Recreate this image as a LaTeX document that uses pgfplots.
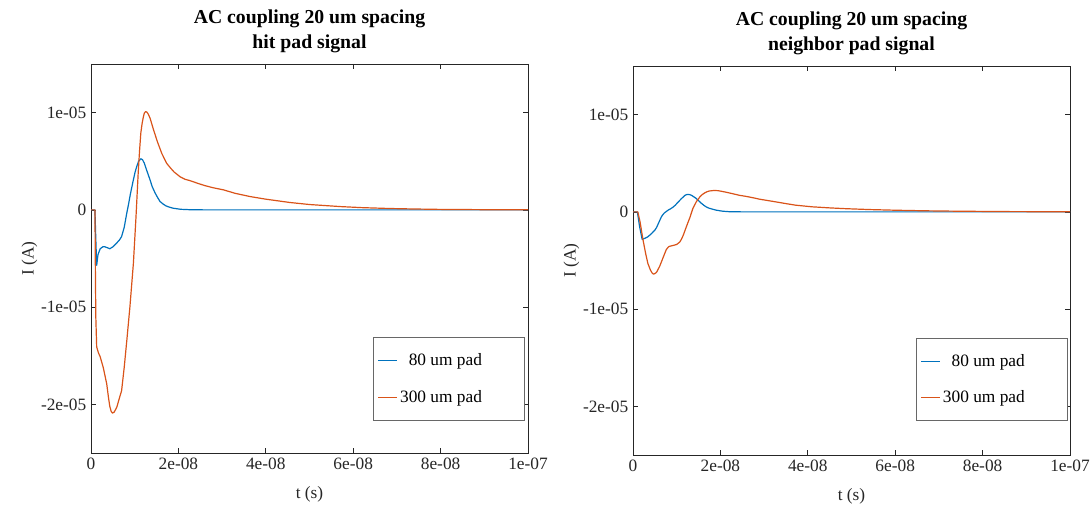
\documentclass[border=0pt]{standalone}
\usepackage{pgfplots}
\pgfplotsset{compat=1.18}
\usepackage{fontspec}
\setmainfont{Liberation Serif}
\definecolor{mblue}{RGB}{0,114,189}
\definecolor{morange}{RGB}{217,83,25}
\definecolor{axgray}{RGB}{38,38,38}

\pgfplotstableread{
t y
0 0
0.9 0
1.1 -3
1.3 -5.7
1.6 -4.6
2.1 -4.0
2.7 -3.8
3.2 -3.8
3.8 -3.9
4.3 -4.0
5.0 -3.8
5.9 -3.4
6.5 -3.1
7.0 -2.75
7.6 -1.8
8.2 -0.3
8.6 0.6
9.0 1.6
9.7 3.1
10.1 3.9
10.5 4.5
10.9 5.0
11.4 5.26
11.8 5.15
12.2 4.8
12.8 4.0
13.5 3.1
14.0 2.4
14.6 1.8
15.2 1.3
15.8 0.86
16.5 0.6
17.2 0.4
18.0 0.27
18.8 0.17
20.5 0.06
22.5 0.02
26 0
100 0
}\lefthit

\pgfplotstableread{
t y
0 0
0.9 0
1.0 -6
1.1 -11
1.3 -14.1
1.7 -14.7
2.1 -15.1
2.8 -16.2
3.6 -17.9
4.0 -19.3
4.3 -20.2
4.6 -20.7
4.9 -20.9
5.3 -20.8
5.9 -20.3
6.6 -19.2
7.0 -18.6
7.6 -16.2
8.2 -13.4
8.9 -10.0
9.7 -5.5
10.3 -0.7
10.8 3.8
11.1 6.0
11.4 7.9
11.7 8.9
12.0 9.6
12.2 9.95
12.5 10.1
12.8 10.05
13.1 9.85
13.5 9.45
14.3 8.25
15.2 7.0
16.2 5.8
17.3 4.8
18.2 4.3
19.0 3.9
20.4 3.4
21.5 3.15
22.7 3.0
24.3 2.75
26 2.5
28 2.27
30.3 2.06
33 1.7
36.4 1.37
40 1.1
45.5 0.76
50 0.55
57 0.34
62 0.23
68.4 0.14
74 0.09
79.8 0.05
90 0.02
100 0.01
}\leftbig

\pgfplotstableread{
t y
0 0
1.0 0
1.5 -1.5
2.1 -2.83
2.8 -2.7
3.4 -2.56
4.2 -2.25
5.0 -1.88
5.4 -1.6
5.8 -1.2
6.2 -0.8
6.5 -0.5
6.9 -0.25
7.2 -0.1
8.0 0.17
8.6 0.32
9.2 0.5
9.7 0.7
10.2 0.95
11.1 1.37
11.9 1.7
12.3 1.78
12.6 1.8
13.0 1.77
13.4 1.7
14.5 1.37
15.0 1.15
15.6 0.9
16.2 0.68
16.8 0.5
17.4 0.38
18.0 0.3
19.1 0.17
20.5 0.07
22 0.02
25 0
100 0
}\righthit

\pgfplotstableread{
t y
0 0
1.1 0
1.6 -1.0
2.3 -2.9
2.9 -4.3
3.4 -5.3
4.0 -6.0
4.4 -6.3
4.7 -6.4
5.0 -6.35
5.4 -6.2
6.1 -5.6
6.8 -4.8
7.6 -3.9
8.0 -3.65
8.3 -3.55
9.2 -3.45
10.0 -3.35
10.7 -3.1
11.1 -2.8
11.5 -2.4
12.2 -1.54
13.0 -0.6
13.7 0.35
14.5 1.05
15.3 1.54
15.9 1.8
16.4 1.95
17.0 2.08
17.5 2.15
18.5 2.2
19.5 2.18
21 2.05
22.5 1.9
24.4 1.7
25.8 1.6
27.5 1.45
29 1.3
32 1.08
35 0.85
37.2 0.69
41 0.52
45 0.41
48.6 0.33
54 0.24
60 0.17
67 0.11
74 0.07
85 0.03
100 0.01
}\rightbig

\pgfplotsset{
  mystyle/.style={
    scale only axis,
    width=327.75pt, height=291.75pt,
    xmin=0, xmax=100, ymin=-25, ymax=15,
    xtick={0,20,40,60,80,100},
    xticklabels={0,2e-08,4e-08,6e-08,8e-08,1e-07},
    ytick={-20,-10,0,10},
    yticklabels={-2e-05,-1e-05,0,1e-05},
    tick align=inside,
    major tick length=4pt,
    axis line style={axgray, line width=0.5pt},
    every tick/.style={axgray, line width=0.5pt},
    tick label style={font=\fontsize{13}{15}\selectfont, text=axgray},
    label style={font=\fontsize{13}{15}\selectfont, text=axgray},
    xlabel={t (s)},
    ylabel={I (A)},
    xlabel style={yshift=-6pt},
    ylabel style={yshift=-4pt},
    title style={font=\bfseries\fontsize{14.8}{18.75}\selectfont, align=center, yshift=-1pt},
    legend cell align=right,
    legend style={draw=axgray!70, line width=0.5pt, font=\fontsize{13}{15}\selectfont,
      inner xsep=3pt, inner ysep=10pt, row sep=13pt, anchor=south east},
    legend image code/.code={\draw[#1, line width=0.9pt] (0pt,0pt) -- (14pt,0pt);},
    every axis plot/.append style={line width=0.9pt, line join=round},
  }
}

\begin{document}
\begin{tikzpicture}
\begin{axis}[mystyle, at={(68.25pt,38.25pt)}, anchor=south west,
  title={AC coupling 20 um spacing\\hit pad signal},
  legend style={at={(0.993,0.083)}}]
\addplot[mblue] table[x=t,y=y] {\lefthit};
\addlegendentry{80 um pad\kern27pt}
\addplot[morange] table[x=t,y=y] {\leftbig};
\addlegendentry{300 um pad\kern27pt}
\end{axis}
\begin{axis}[mystyle, at={(474.75pt,36.75pt)}, anchor=south west,
  title={AC coupling 20 um spacing\\neighbor pad signal},
  legend style={at={(0.995,0.087)}}]
\addplot[mblue] table[x=t,y=y] {\righthit};
\addlegendentry{80 um pad\kern27pt}
\addplot[morange] table[x=t,y=y] {\rightbig};
\addlegendentry{300 um pad\kern27pt}
\end{axis}
\pgfresetboundingbox
\path (0,0) rectangle (819pt,378pt);
\end{tikzpicture}
\end{document}
